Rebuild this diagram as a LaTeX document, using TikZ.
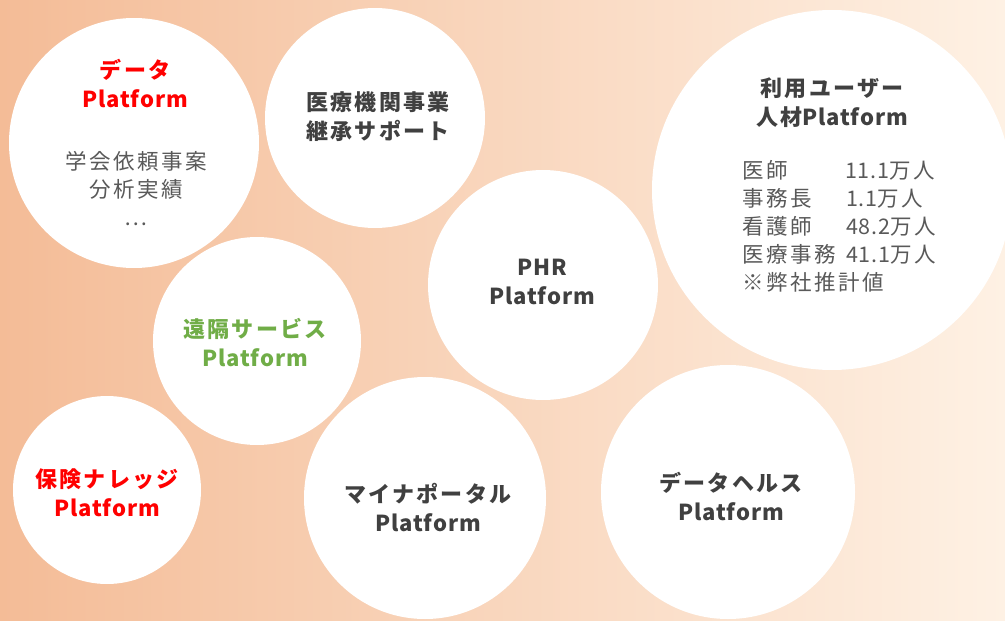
\documentclass[tikz,border=0pt]{standalone}
\usepackage{fontspec}
\newfontfamily\jpt[LetterSpace=10]{Noto Sans CJK JP}
\newfontfamily\jptl[LetterSpace=4]{Noto Sans CJK JP}
\newfontfamily\jpr[LetterSpace=12]{Noto Sans CJK JP}
\newfontfamily\jprn[LetterSpace=4]{Noto Sans CJK JP}
\newcommand{\lat}[1]{{\jptl #1}}
\newcommand{\num}[1]{{\jprn #1}}
\definecolor{bgL}{HTML}{F4BC97}
\definecolor{bgR}{HTML}{FEF1E4}
\definecolor{ttlgray}{HTML}{404040}
\definecolor{bodygray}{HTML}{595959}
\definecolor{ttlred}{HTML}{FF0000}
\definecolor{ttlgreen}{HTML}{70AD47}
\begin{document}
\begin{tikzpicture}[x=1pt,y=-1pt,
  bubble/.style={circle,fill=white,draw=none,inner sep=0pt,minimum size=#1},
  ttl/.style={inner sep=0pt,align=center,text=ttlgray,font=\jpt\bfseries\fontsize{22}{29}\selectfont},
  bodytxt/.style={inner sep=0pt,text=bodygray,font=\jpr\fontsize{21.5}{28}\selectfont}]
\useasboundingbox (0,0) rectangle (1005,621);
\clip (0,0) rectangle (1005,621);
\shade[left color=bgL,right color=bgR] (0,0) rectangle (1005,621);
% circles
\node[bubble=250pt] (c1) at (134,143) {};
\node[bubble=220pt] (c2) at (375,118) {};
\node[bubble=208pt] (c3) at (257,341) {};
\node[bubble=230pt] (c4) at (543,285) {};
\node[bubble=360pt] (c5) at (832,190) {};
\node[bubble=188pt] (c6) at (107,490) {};
\node[bubble=242pt] (c7) at (425,498) {};
\node[bubble=254pt] (c8) at (728,492) {};
% texts
\node[ttl,text=ttlred] (t1) at (135,83) {データ\\\lat{Platform}};
\node[bodytxt,align=center] (b1) at (136,189) {学会依頼事案\\分析実績\\…};
\node[ttl] (t2) at (378,116.5) {医療機関事業\\継承サポート};
\node[ttl,text=ttlgreen] (t3) at (255,343) {遠隔サービス\\\lat{Platform}};
\node[ttl] (t4) at (542,281.5) {\lat{PHR}\\\lat{Platform}};
\node[ttl] (t5) at (832,103) {利用ユーザー\\人材\lat{Platform}};
\node[bodytxt,align=left,anchor=west] (b5) at (742,226.5) {%
\makebox[103pt][l]{医師}\num{11.1}万人\\
\makebox[104pt][l]{事務長}\num{1.1}万人\\
\makebox[104pt][l]{看護師}\num{48.2}万人\\
\makebox[104pt][l]{医療事務}\num{41.1}万人\\
※弊社推計値};
\node[ttl,text=ttlred] (t6) at (107,492.5) {保険ナレッジ\\\lat{Platform}};
\node[ttl] (t7) at (428,507.5) {マイナポータル\\\lat{Platform}};
\node[ttl] (t8) at (731,496.5) {データヘルス\\\lat{Platform}};
\end{tikzpicture}
\end{document}
